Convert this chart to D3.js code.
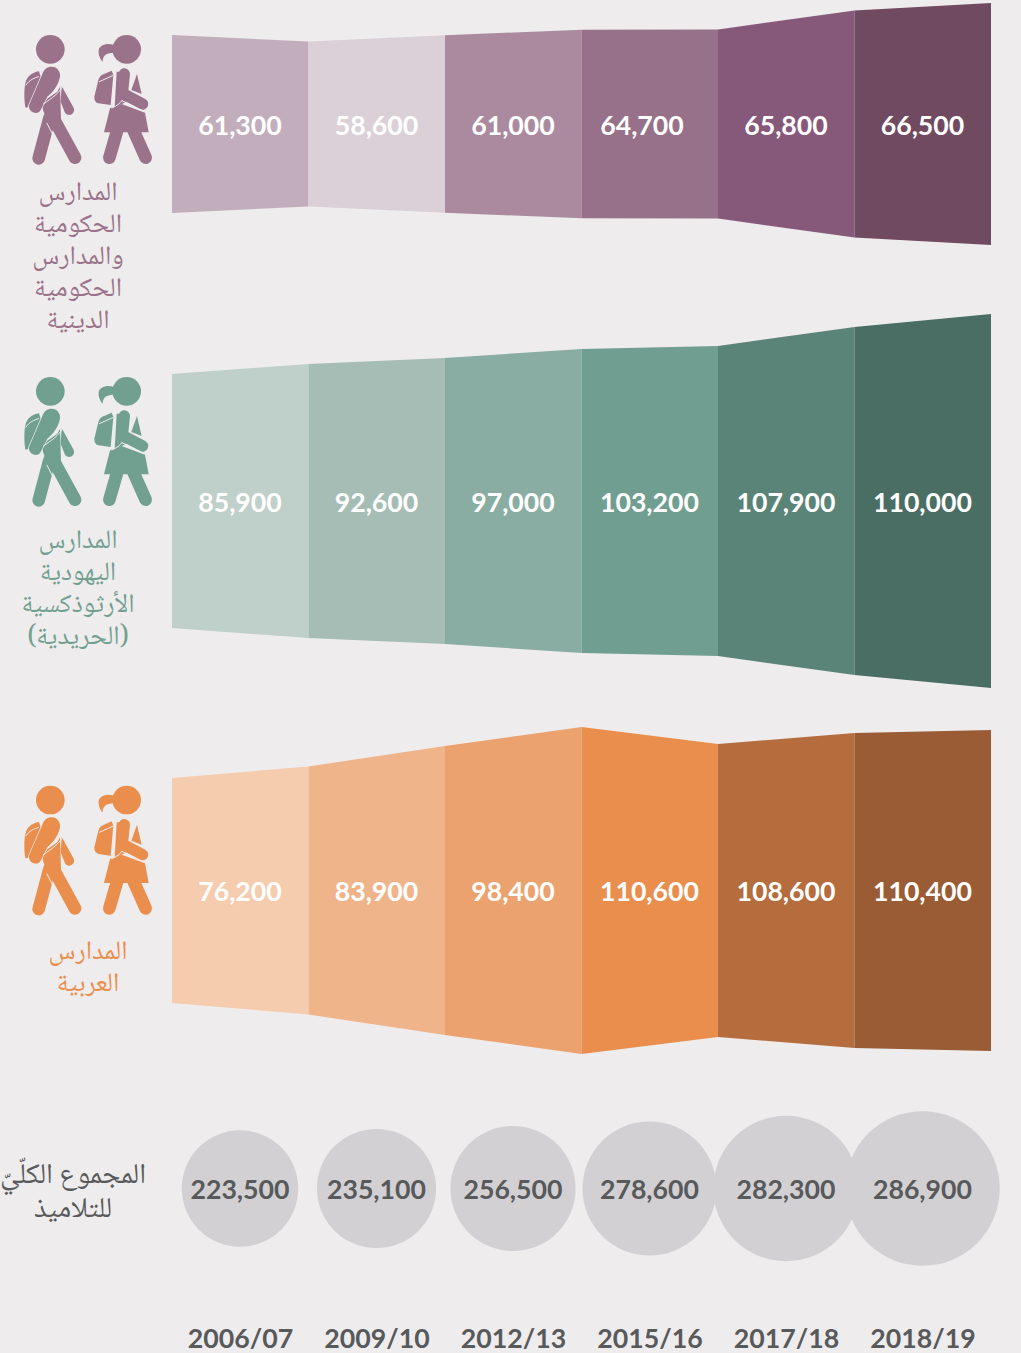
<!DOCTYPE html>
<html lang="ar"><head><meta charset="utf-8">
<script src="https://cdn.jsdelivr.net/npm/d3@7/dist/d3.min.js"></script>
<style>
html,body{margin:0;padding:0;background:#eeeced}
svg{display:block}
text{font-family:Lato,"Open Sans",sans-serif}
.ar{font-family:"Noto Naskh Arabic","Noto Sans Arabic","DejaVu Sans",sans-serif;font-feature-settings:"dlig" 1,"liga" 1,"rlig" 1}
</style></head><body><div id="chart"></div>
<script>
const years = ["2006/07","2009/10","2012/13","2015/16","2017/18","2018/19"];
const stateValues = [61300,58600,61000,64700,65800,66500];
const haredValues = [85900,92600,97000,103200,107900,110000];
const arabValues  = [76200,83900,98400,110600,108600,110400];
const totals      = [223500,235100,256500,278600,282300,286900];
// Band thickness at each of the 7 boundaries (pupil units)
const stateEdges = [60300,55900,60200,63900,64100,76900,82000];
const haredEdges = [86100,92900,96900,103100,105100,118000,126800];
const arabEdges  = [76300,84100,98000,110800,99300,106800,108800];
// Drawn circle size (area units)
const totalAreas = [223500,234400,258500,296200,348700,394000];
const stateColors = ["#c2adbc","#dbd0d8","#ab8aa0","#97718a","#86597a","#6f4a60"];
const haredColors = ["#bfcfc9","#a5bdb5","#89ada3","#709e90","#5a8477","#4a6e63"];
const arabColors  = ["#f6ccae","#f0b48a","#eca26e","#e98e4c","#b56d3d","#9a5c34"];
const stateLabel = ["المدارس","الحكومية","والمدارس","الحكومية","الدينية"];
const haredLabel = ["المدارس","اليهودية","الأرثوذكسية","(الحريدية)"];
const arabLabel  = ["المدارس","العربية"];
const totalLabel = ["المجموع الكلّيّ","للتلاميذ"];

const W=1021,H=1353,BG="#eeeced";
const svg=d3.select("#chart").append("svg").attr("width",W).attr("height",H).attr("viewBox",[0,0,W,H]);
svg.append("rect").attr("width",W).attr("height",H).attr("fill",BG);

const x=d3.scaleLinear().domain([0,6]).range([172,991]);
const thick=d3.scaleLinear().domain([0,100000]).range([0,295]);
const radius=d3.scaleSqrt().domain([0,223500]).range([0,58.2]);
const NUM=26.7;

const bands=[
 {cy:124,vals:stateValues,edges:stateEdges,cols:stateColors,label:stateLabel,lx:78,ly:192,iconDy:0,icon:"#9a7289",shift:[0,0,0,-7.5,0,0]},
 {cy:501,vals:haredValues,edges:haredEdges,cols:haredColors,label:haredLabel,lx:78,ly:540,iconDy:342,icon:"#71a090",shift:[0,0,0,0,0,0]},
 {cy:890.5,vals:arabValues,edges:arabEdges,cols:arabColors,label:arabLabel,lx:88,ly:951,iconDy:750.7,icon:"#ea8e4e",shift:[0,0,0,0,0,0]}
];

function drawBoy(g,c){
  const p=g.append("g").attr("transform","translate(20,30) scale(0.3333)");
  p.append("circle").attr("cx",91).attr("cy",58).attr("r",43).attr("fill",c);
  const f=d=>p.append("path").attr("d",d).attr("fill",c);
  const s=(d,w,col)=>p.append("path").attr("d",d).attr("fill","none").attr("stroke",col).attr("stroke-width",w).attr("stroke-linecap","round").attr("stroke-linejoin","round");
  f("M16,232 C12,210 12,180 16,160 C20,140 35,128 57,124 L62,140 L30,222 Q22,236 16,232Z");
  s("M18,165 C28,150 40,145 56,140",3,BG);
  f("M125,168 L160,232 A14,14 0 0 1 135,248 L122,215 Z");
  f("M68,225 C75,205 100,195 112,185 L120,170 L123,268 L85,268 C75,258 66,240 68,225Z");
  s("M88,265 L56,385",38,c);
  s("M102,268 L165,383",38,c);
  s("M81,280 L103,323",3,BG);
  f("M95,110 C112,110 122,125 120,140 C115,165 100,185 82,200 L62,240 C55,255 30,250 27,232 Q26,225 30,218 L68,130 C72,118 82,110 95,110Z")
    .attr("stroke",BG).attr("stroke-width",4).attr("paint-order","stroke");
  s("M128,170 C115,190 100,202 70,222",3,BG);
}
function drawGirl(g,c){
  const p=g.append("g").attr("transform","translate(90,30) scale(0.3333)");
  p.append("circle").attr("cx",110).attr("cy",58).attr("r",43).attr("fill",c);
  const f=d=>p.append("path").attr("d",d).attr("fill",c);
  const s=(d,w,col)=>p.append("path").attr("d",d).attr("fill","none").attr("stroke",col).attr("stroke-width",w).attr("stroke-linecap","round").attr("stroke-linejoin","round");
  f("M72,45 C50,38 30,45 26,60 C24,75 32,90 38,95 C38,80 45,68 72,68Z");
  f("M35,135 L65,122 L70,135 L62,225 L25,220 Q12,215 13,200 L25,150 Q28,140 35,135Z");
  s("M28,155 L68,137",3,BG);
  f("M141,132 L155,192 L124,180Z");
  f("M80,125 L74,232 L110,215 L110,125Z");
  f("M60,235 L42,307 L176,307 L165,248 L95,222Z");
  s("M82,300 L58,383",38,c);
  s("M130,300 L167,383",38,c);
  s("M103,132 L97,190 L158,222",34,c);
  s("M66,234 C80,228 90,220 96,212",3,BG);
  s("M96,212 L166,246",3,BG);
}

bands.forEach(b=>{
  const g=svg.append("g");
  const area=d3.area().x(d=>x(d.i)).y0(d=>b.cy-thick(d.e)/2).y1(d=>b.cy+thick(d.e)/2);
  g.selectAll("path.seg").data(b.vals).join("path").attr("class","seg")
    .attr("fill",(d,i)=>b.cols[i])
    .attr("d",(d,i)=>area([{i,e:b.edges[i]},{i:i+1,e:b.edges[i+1]}]));
  g.selectAll("text.val").data(b.vals).join("text").attr("class","val")
    .attr("x",(d,i)=>x(i+0.5)-0.25+b.shift[i]).attr("y",b.cy+10.6).attr("text-anchor","middle")
    .attr("fill","#fff").attr("font-size",NUM).attr("font-weight",700)
    .text(d3.format(","));
  const ic=g.append("g").attr("transform",`translate(0,${b.iconDy})`);
  drawBoy(ic,b.icon); drawGirl(ic,b.icon);
  g.selectAll("text.lab").data(b.label).join("text").attr("class","lab ar")
    .attr("direction","rtl").attr("x",b.lx).attr("y",(d,i)=>b.ly+i*32+8)
    .attr("text-anchor","middle").attr("fill",b.icon).attr("font-size",26.6).text(d=>d);
});

const cy=1188.5;
const tg=svg.append("g");
const cx=[0,1,2,3,4,5].map(i=>x(i+0.5)-0.25);
tg.selectAll("circle").data(totalAreas).join("circle")
  .attr("cx",(d,i)=>cx[i]).attr("cy",cy).attr("r",d=>radius(d)).attr("fill","#d2d0d3");
tg.selectAll("text.tot").data(totals).join("text").attr("class","tot")
  .attr("x",(d,i)=>cx[i]).attr("y",cy+10.2).attr("text-anchor","middle")
  .attr("fill","#58595b").attr("font-size",NUM).attr("font-weight",700).text(d3.format(","));
tg.selectAll("text.tl").data(totalLabel).join("text").attr("class","tl ar")
  .attr("direction","rtl").attr("x",73).attr("y",(d,i)=>1183+i*34)
  .attr("text-anchor","middle").attr("fill","#58595b").attr("font-size",28.8).text(d=>d);

const yearScale=d3.scalePoint().domain(years).range([cx[0],cx[5]]);
const ax=svg.append("g").attr("transform","translate(0,1322)")
  .call(d3.axisBottom(yearScale).tickSize(0).tickPadding(3));
ax.select(".domain").remove();
ax.selectAll("text").attr("fill","#58595b").attr("font-size",NUM).attr("font-weight",700)
  .attr("font-family","Lato").attr("dy","0.85em");
</script></body></html>
